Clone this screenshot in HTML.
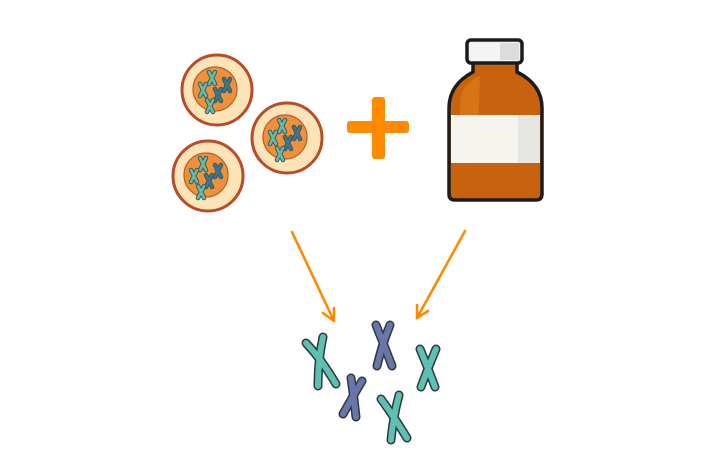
<!DOCTYPE html>
<html><head><meta charset="utf-8"><style>html,body{margin:0;padding:0;background:#fff}svg{display:block}</style></head>
<body>
<svg width="715" height="450" viewBox="0 0 715 450" xmlns="http://www.w3.org/2000/svg">
<defs>
<g id="mx">
 <g stroke-linecap="round">
 <path d="M-3,-6 L3,6 M3,-6 L-3,6" stroke="#2e5a5a" stroke-width="4.5"/>
 <path d="M-3,-6 L3,6 M3,-6 L-3,6" stroke-width="2.6"/>
 </g>
</g>
<g id="cell">
 <circle r="35" fill="#fde3b8" stroke="#b94c26" stroke-width="3"/>
 <circle cx="-2" cy="-1" r="22" fill="#f0903a" stroke="#b8602a" stroke-width="1.2"/>
 <use href="#mx" x="-5" y="-12" stroke="#6ab8a8"/>
 <use href="#mx" x="10" y="-5" stroke="#3f7590"/>
 <use href="#mx" x="-14" y="0" stroke="#6ab8a8"/>
 <use href="#mx" x="1" y="5" stroke="#3f7590"/>
 <use href="#mx" x="-7" y="16" stroke="#6ab8a8"/>
</g>
</defs>
<use href="#cell" x="217" y="90"/>
<use href="#cell" x="287" y="138"/>
<use href="#cell" x="208" y="176"/>

<rect x="347" y="121" width="62" height="12" rx="3" fill="#ff8a00"/>
<rect x="372" y="97" width="13" height="62" rx="3" fill="#ff8a00"/>

<!-- bottle -->
<path d="M473,62 L473,72 C458,80 449,92 449,108 L449,194 Q449,200 455,200 L536,200 Q542,200 542,194 L542,108 C542,92 533,80 517,72 L517,62 Z" fill="#c8620f" stroke="#1c1c1c" stroke-width="3.5"/>
<path d="M460,100 C462,88 470,80 480,76 L478,130 L460,130 Z" fill="#e07a1a" opacity="0.7"/>
<rect x="451" y="115" width="89" height="48" fill="#f6f4ee"/>
<rect x="518" y="115" width="22" height="48" fill="#e6e6e2"/>
<rect x="467" y="40" width="55" height="23" rx="4" fill="#f4f4f4" stroke="#1c1c1c" stroke-width="3.5"/>
<rect x="500" y="43" width="19" height="17" fill="#dcdcdc"/>

<!-- arrows -->
<g stroke="#ff8a00" stroke-width="2.6" fill="none" stroke-linecap="round" stroke-linejoin="round">
<path d="M292,232 L334,321"/>
<path d="M323,313 L334,321 L334,308"/>
<path d="M465,231 L417,318"/>
<path d="M417,305 L417,318 L428,311"/>
</g>

<!-- chromosomes -->
<g stroke-linecap="round" fill="none">
 <g stroke="#2b3a40" stroke-width="9">
  <path d="M306,343 Q322,360 336,384"/><path d="M323,337 Q318,360 318,386"/>
  <path d="M376,325 Q384,345 392,366"/><path d="M390,325 Q382,345 377,366"/>
  <path d="M420,349 Q428,368 435,387"/><path d="M436,349 Q428,368 421,387"/>
  <path d="M362,381 Q352,398 343,414"/><path d="M351,378 Q354,398 356,417"/>
  <path d="M381,399 Q395,418 407,438"/><path d="M399,395 Q393,418 391,440"/>
 </g>
 <g stroke-width="6">
  <g stroke="#5fbfb0">
  <path d="M306,343 Q322,360 336,384"/><path d="M323,337 Q318,360 318,386"/>
  <path d="M420,349 Q428,368 435,387"/><path d="M436,349 Q428,368 421,387"/>
  <path d="M381,399 Q395,418 407,438"/><path d="M399,395 Q393,418 391,440"/>
  </g>
  <g stroke="#6a76a8">
  <path d="M376,325 Q384,345 392,366"/><path d="M390,325 Q382,345 377,366"/>
  <path d="M362,381 Q352,398 343,414"/><path d="M351,378 Q354,398 356,417"/>
  </g>
 </g>
</g>
</svg>
</body></html>
